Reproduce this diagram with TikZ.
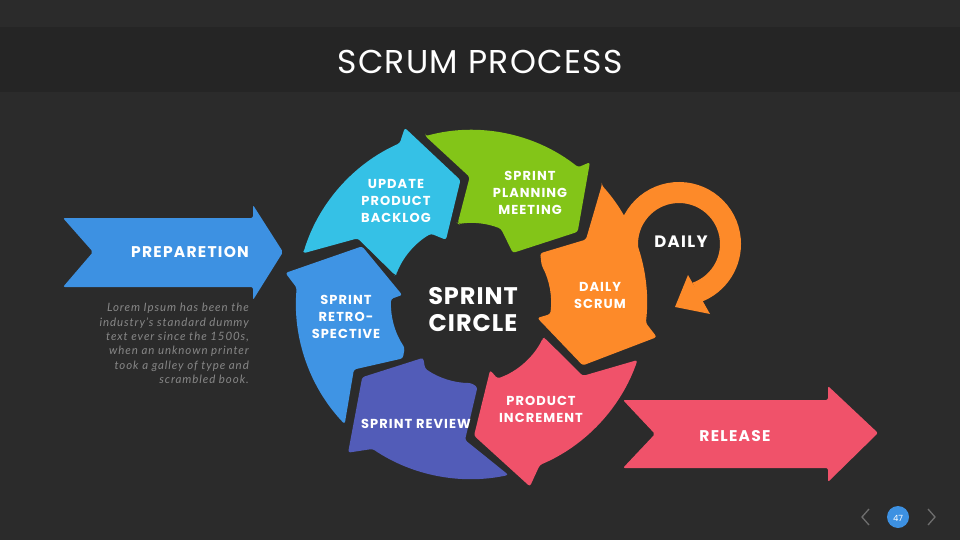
\documentclass[tikz,border=0pt]{standalone}
\usepackage{fontspec}
\setmainfont{Poppins}
\newfontfamily\labfont{Poppins}[LetterSpace=8]
\newfontfamily\bigfont{Poppins}[LetterSpace=4]
\newfontfamily\loremfont{Lato}[LetterSpace=8]
\definecolor{bgc}{RGB}{43,43,43}
\definecolor{bandc}{RGB}{37,37,37}
\definecolor{cyc}{RGB}{53,193,230}
\definecolor{grc}{RGB}{131,197,24}
\definecolor{orc}{RGB}{253,138,41}
\definecolor{pkc}{RGB}{240,82,106}
\definecolor{puc}{RGB}{82,92,184}
\definecolor{blc}{RGB}{63,148,228}
\definecolor{prc}{RGB}{61,145,226}
\definecolor{loremc}{RGB}{135,135,135}
\definecolor{chevc}{RGB}{110,110,110}
\tikzset{
  lbl/.style={text=white, align=center, inner sep=0pt, font=\labfont\bfseries\fontsize{13}{17}\selectfont},
  seg/.style={rounded corners=2.5pt},
}
\begin{document}
\begin{tikzpicture}[x=1pt,y=-1pt]
\fill[bgc] (0,0) rectangle (960,540);
\useasboundingbox (0,0) rectangle (960,540);
\fill[bandc] (0,27) rectangle (960,92);
\node[text=white, font=\bigfont\fontsize{33}{38}\selectfont] (title) at (480,62) {SCRUM PROCESS};

% preparation arrow
\fill[prc, rounded corners=2pt] (63,218) -- (253,218) -- (253,205) -- (283,252) -- (253,300) -- (253,287) -- (63,287) -- (93,252) -- cycle;
\node[lbl, font=\labfont\bfseries\fontsize{15.5}{18}\selectfont] (prep) at (190,252) {PREPARETION};

% release arrow
\fill[pkc, rounded corners=2pt] (623,400) -- (828,400) -- (828,386) -- (878,433) -- (828,482) -- (828,468) -- (623,468) -- (655,434) -- cycle;
\node[lbl, font=\labfont\bfseries\fontsize{15.5}{18}\selectfont] (rel) at (735,436) {RELEASE};

% lorem text
\node[anchor=north east, align=right, inner sep=0pt, text=loremc, font=\loremfont\itshape\fontsize{11.5}{14.4}\selectfont] (lorem) at (249,303) {Lorem Ipsum has been the\\industry’s standard dummy\\text ever since the 1500s,\\when an unknown printer\\took a galley of type and\\scrambled book.};

% daily loop
\coordinate (L) at (679,244);
\draw[orc, line width=21pt] (L) ++(175:51.5) arc[start angle=175, end angle=430, radius=51.5];
\fill[orc] (688,275) -- (675,307) -- (710,314) -- cycle;

\begin{scope}[shift={(471,303)}]
% cyan
\fill[cyc, seg] (196.5:175) -- (209.7:130.5) -- (200.2:81) -- (201:80) arc[start angle=201,end angle=240,radius=80] -- (248.4:68) -- (265.1:123.3) -- (249.3:187.3) -- (246:175) arc[start angle=246,end angle=196.5,radius=175] -- cycle;
% green
\fill[grc, seg] (254.7:173) -- (269.4:126) -- (260.5:80.8) -- (261:80) arc[start angle=261,end angle=292,radius=80] -- (309.9:65.3) -- (326.3:128.2) -- (310.2:184.3) -- (308.3:173) arc[start angle=308.3,end angle=254.7,radius=173] -- cycle;
% orange
\fill[orc, seg] (318:176) -- (331.1:131.3) -- (324.3:85.2) -- (332:80) arc[start angle=332,end angle=368,radius=80] -- (372.7:68) -- (389.2:128) -- (370.4:188.9) -- (366.5:176) arc[start angle=366.5,end angle=318,radius=176] -- cycle;
% pink
\fill[pkc, seg] (25.4:81.5) -- (33.1:133.5) -- (18.9:176) arc[start angle=18.9,end angle=67,radius=176] -- (72.2:192.7) -- (88.7:132.7) -- (74.1:69.8) -- (70.7:80) arc[start angle=70.7,end angle=26,radius=80] -- cycle;
% purple
\fill[puc, seg] (85.6:84.3) -- (92.5:137.1) -- (77.7:176) arc[start angle=77.7,end angle=124,radius=176] -- (129.4:193.7) -- (145.7:131.7) -- (131.1:72.7) -- (125:80) arc[start angle=125,end angle=90,radius=80] -- cycle;
% blue
\fill[blc, seg] (136.2:175) -- (150.4:134.7) -- (140.9:87.8) -- (146:80) arc[start angle=146,end angle=183,radius=80] -- (186.6:69.2) -- (207.5:122.8) -- (189.2:188) -- (185:175) arc[start angle=185,end angle=136.2,radius=175] -- cycle;
\end{scope}

\node[lbl] (upd) at (396,201) {UPDATE\\PRODUCT\\BACKLOG};
\node[lbl] (spm) at (530,193) {SPRINT\\PLANNING\\MEETING};
\node[lbl] (ds) at (600,295) {DAILY\\SCRUM};
\node[lbl] (pi) at (541,409) {PRODUCT\\INCREMENT};
\node[lbl] (sr) at (416,424) {SPRINT REVIEW};
\node[lbl] (sre) at (346,317) {SPRINT\\RETRO-\\SPECTIVE};
\node[lbl, font=\bigfont\bfseries\fontsize{24}{27}\selectfont] (sc) at (473,310) {SPRINT\\CIRCLE};
\node[lbl, font=\labfont\bfseries\fontsize{16.5}{20}\selectfont] (daily) at (681,242) {DAILY};

% page indicator
\fill[prc] (898,517) circle (11);
\node[text=white, font=\fontsize{8.5}{10}\selectfont, inner sep=0pt] (pg) at (898,518) {47};
\draw[chevc, line width=1.3pt] (869,509) -- (862,517) -- (869,525);
\draw[chevc, line width=1.3pt] (928,509) -- (935,517) -- (928,525);
\end{tikzpicture}
\end{document}
